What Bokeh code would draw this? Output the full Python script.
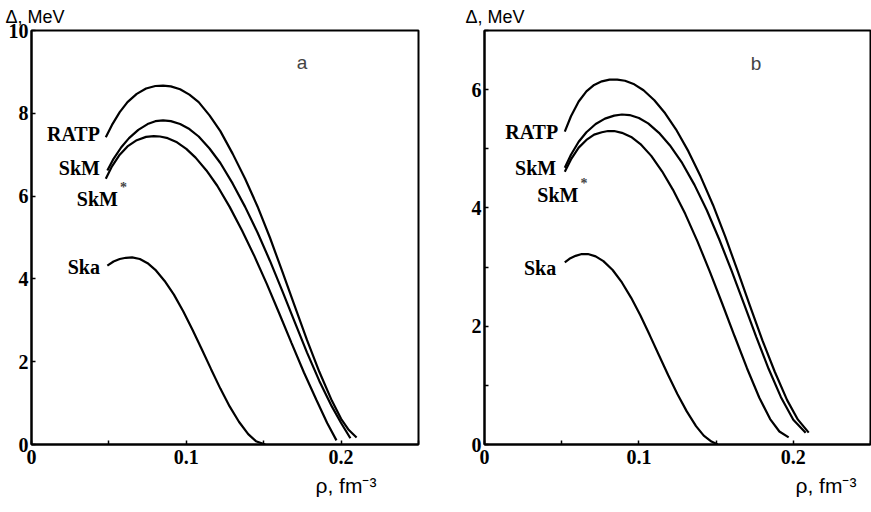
from bokeh.plotting import figure
from bokeh.layouts import row
from bokeh.models import FixedTicker, Label, Title
from bokeh.embed import file_html
from bokeh.resources import INLINE

# ---- data ----
# panel a
a_ratp_x = [0.048, 0.052, 0.057, 0.062, 0.068, 0.074, 0.080, 0.085, 0.090, 0.096, 0.102, 0.108, 0.115, 0.122, 0.130, 0.138, 0.146, 0.154, 0.162, 0.170, 0.178, 0.186, 0.194, 0.200, 0.205, 0.210]
a_ratp_y = [7.42, 7.72, 8.03, 8.27, 8.47, 8.60, 8.66, 8.67, 8.65, 8.58, 8.45, 8.27, 7.95, 7.57, 7.02, 6.42, 5.75, 5.00, 4.18, 3.35, 2.52, 1.75, 1.06, 0.62, 0.35, 0.17]
a_skm_x = [0.049, 0.053, 0.058, 0.063, 0.069, 0.075, 0.080, 0.085, 0.090, 0.096, 0.102, 0.108, 0.115, 0.122, 0.130, 0.138, 0.146, 0.154, 0.162, 0.170, 0.178, 0.186, 0.194, 0.200, 0.206]
a_skm_y = [6.62, 6.90, 7.18, 7.40, 7.60, 7.74, 7.81, 7.83, 7.81, 7.74, 7.62, 7.44, 7.15, 6.80, 6.30, 5.74, 5.12, 4.44, 3.71, 2.96, 2.22, 1.53, 0.92, 0.52, 0.15]
a_skms_x = [0.048, 0.052, 0.057, 0.062, 0.068, 0.074, 0.079, 0.083, 0.088, 0.094, 0.100, 0.106, 0.113, 0.120, 0.128, 0.136, 0.144, 0.152, 0.160, 0.168, 0.176, 0.184, 0.191, 0.197]
a_skms_y = [6.42, 6.72, 7.00, 7.20, 7.35, 7.43, 7.45, 7.44, 7.40, 7.30, 7.14, 6.93, 6.62, 6.25, 5.74, 5.17, 4.55, 3.88, 3.17, 2.45, 1.74, 1.08, 0.52, 0.10]
a_ska_x = [0.049, 0.053, 0.057, 0.061, 0.065, 0.070, 0.075, 0.080, 0.086, 0.092, 0.098, 0.104, 0.110, 0.116, 0.122, 0.128, 0.134, 0.140, 0.145, 0.151]
a_ska_y = [4.32, 4.42, 4.48, 4.51, 4.52, 4.48, 4.38, 4.22, 3.95, 3.62, 3.22, 2.77, 2.30, 1.82, 1.35, 0.92, 0.55, 0.25, 0.08, 0.00]

# panel b
b_ratp_x = [0.052, 0.056, 0.061, 0.066, 0.071, 0.076, 0.081, 0.086, 0.091, 0.097, 0.103, 0.110, 0.117, 0.124, 0.132, 0.140, 0.148, 0.156, 0.164, 0.172, 0.180, 0.188, 0.196, 0.203, 0.210]
b_ratp_y = [5.29, 5.55, 5.80, 5.97, 6.08, 6.14, 6.17, 6.17, 6.15, 6.09, 5.99, 5.82, 5.60, 5.33, 4.96, 4.53, 4.05, 3.51, 2.93, 2.34, 1.76, 1.23, 0.75, 0.42, 0.20]
b_skm_x = [0.052, 0.056, 0.061, 0.066, 0.072, 0.078, 0.084, 0.089, 0.094, 0.100, 0.106, 0.113, 0.120, 0.128, 0.136, 0.144, 0.152, 0.160, 0.168, 0.176, 0.184, 0.192, 0.200, 0.208]
b_skm_y = [4.68, 4.90, 5.12, 5.28, 5.42, 5.51, 5.56, 5.58, 5.57, 5.52, 5.43, 5.27, 5.06, 4.76, 4.39, 3.96, 3.47, 2.94, 2.38, 1.82, 1.28, 0.80, 0.42, 0.20]
b_skms_x = [0.052, 0.056, 0.061, 0.066, 0.071, 0.076, 0.080, 0.084, 0.089, 0.095, 0.101, 0.108, 0.115, 0.122, 0.130, 0.138, 0.146, 0.154, 0.162, 0.170, 0.178, 0.185, 0.191, 0.197]
b_skms_y = [4.61, 4.82, 5.02, 5.15, 5.24, 5.28, 5.30, 5.30, 5.27, 5.20, 5.08, 4.88, 4.62, 4.31, 3.90, 3.43, 2.92, 2.38, 1.83, 1.29, 0.79, 0.43, 0.22, 0.12]
b_ska_x = [0.052, 0.055, 0.059, 0.063, 0.067, 0.072, 0.077, 0.083, 0.089, 0.095, 0.101, 0.107, 0.113, 0.119, 0.125, 0.131, 0.137, 0.142, 0.147, 0.151]
b_ska_y = [3.08, 3.14, 3.19, 3.22, 3.22, 3.18, 3.10, 2.95, 2.74, 2.48, 2.18, 1.85, 1.51, 1.17, 0.85, 0.56, 0.31, 0.15, 0.05, 0.00]

x_ticks = [0, 0.05, 0.1, 0.15, 0.2, 0.25]
x_tick_labels = {0: "0", 0.05: "", 0.1: "0.1", 0.15: "", 0.2: "0.2", 0.25: ""}
a_y_ticks = [0, 2, 4, 6, 8, 10]
a_y_labels = {0: "0", 2: "2", 4: "4", 6: "6", 8: "8", 10: "10"}
b_y_ticks = [0, 1, 2, 3, 4, 5, 6, 7]
b_y_labels = {0: "0", 1: "", 2: "2", 3: "", 4: "4", 5: "", 6: "6", 7: ""}
y_title = "Δ,  MeV"
x_title = "ρ,  fm⁻³"

SERIF = "Liberation Serif"
SANS = "Liberation Sans"


def make_panel(width, left, right, ymax, yticks, ylabels, curves, names, ytitle_offset, xtitle_offset):
    p = figure(width=width, height=512, x_range=(0, 0.25), y_range=(0, ymax),
               output_backend="svg", toolbar_location=None,
               min_border_left=left, min_border_right=right,
               min_border_top=29, min_border_bottom=68)
    p.grid.visible = False
    p.outline_line_color = "black"
    p.outline_line_width = 2
    p.background_fill_color = "white"
    p.border_fill_color = "white"
    for ax in (p.xaxis[0], p.yaxis[0]):
        ax.axis_line_width = 2
        ax.major_tick_in = 4
        ax.major_tick_out = 0
        ax.minor_tick_in = 0
        ax.minor_tick_out = 0
        ax.major_tick_line_width = 1.5
        ax.major_label_text_font = SERIF
        ax.major_label_text_font_style = "bold"
        ax.major_label_text_font_size = "20px"
        ax.major_label_text_color = "black"
    p.xaxis.ticker = FixedTicker(ticks=x_ticks)
    p.xaxis.major_label_overrides = x_tick_labels
    p.xaxis.major_label_standoff = 5
    p.yaxis.ticker = FixedTicker(ticks=yticks)
    p.yaxis.major_label_overrides = ylabels
    p.yaxis.major_label_standoff = 3

    for (cx, cy) in curves:
        p.line(cx, cy, line_color="black", line_width=2.2)

    for (txt, x, y) in names:
        p.add_layout(Label(x=x, y=y, text=txt, text_font=SERIF, text_font_style="bold",
                           text_font_size="20px", text_align="right", text_baseline="middle",
                           text_color="black"))

    p.add_layout(Title(text=y_title, align="left", offset=ytitle_offset, standoff=8,
                       text_font=SANS, text_font_size="18px", text_font_style="normal",
                       text_color="black"), "above")
    p.add_layout(Title(text=x_title, align="left", offset=xtitle_offset, standoff=11,
                       text_font=SANS, text_font_size="21px", text_font_style="normal",
                       text_color="black"), "below")
    return p


def letter(p, txt, x, y):
    p.add_layout(Label(x=x, y=y, text=txt, text_font=SANS,
                       text_font_size="19px", text_align="center", text_baseline="middle"))


def star(p, x, y):
    p.add_layout(Label(x=x, y=y, text="*", text_font=SERIF, text_font_style="bold",
                       text_font_size="14px", text_align="left", text_baseline="middle"))


pa = make_panel(440, 31, 22, 10, a_y_ticks, a_y_labels,
                [(a_ratp_x, a_ratp_y), (a_skm_x, a_skm_y), (a_skms_x, a_skms_y), (a_ska_x, a_ska_y)],
                [("RATP", 0.0442, 7.51), ("SkM", 0.0442, 6.69), ("SkM", 0.0558, 5.92), ("Ska", 0.0442, 4.28)],
                -26, 284)
star(pa, 0.0571, 6.21)
letter(pa, "a", 0.1747, 9.23)

pb = make_panel(431, 44, 1, 7, b_y_ticks, b_y_labels,
                [(b_ratp_x, b_ratp_y), (b_skm_x, b_skm_y), (b_skms_x, b_skms_y), (b_ska_x, b_ska_y)],
                [("RATP", 0.0477, 5.28), ("SkM", 0.0464, 4.67), ("SkM", 0.0608, 4.22), ("Ska", 0.0464, 2.98)],
                -19, 311)
star(pb, 0.0622, 4.42)
letter(pb, "b", 0.1758, 6.44)

layout = row(pa, pb)
open("out.html", "w").write(file_html(layout, INLINE))
